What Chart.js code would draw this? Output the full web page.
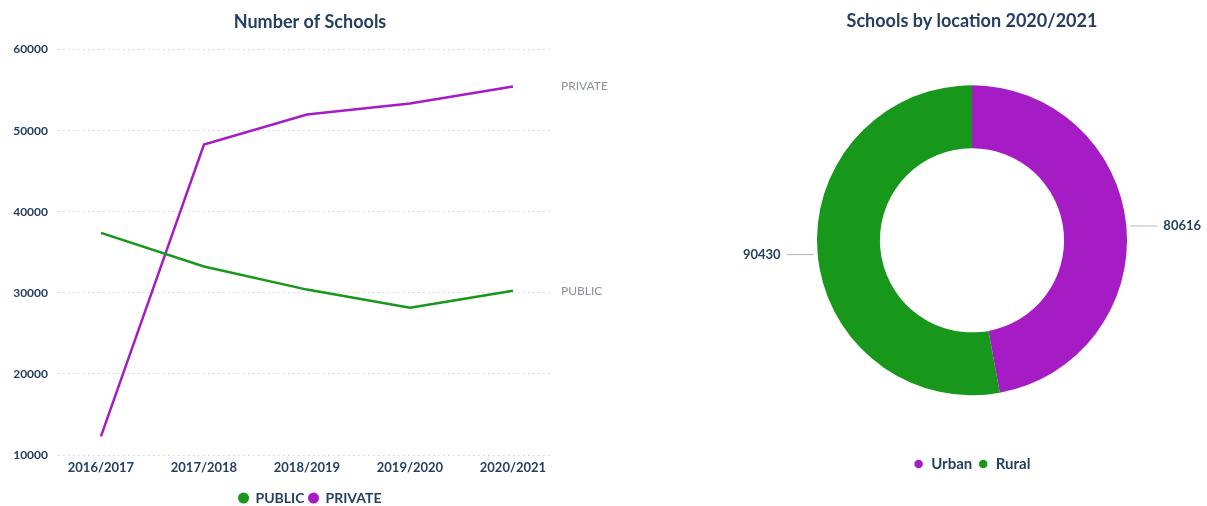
<!DOCTYPE html>
<html>
<head>
<meta charset="utf-8">
<script src="https://cdn.jsdelivr.net/npm/chart.js@4/dist/chart.umd.min.js"></script>
<style>
  html, body { margin: 0; padding: 0; background: #fff; }
  #wrap { position: relative; width: 1207px; height: 506px; overflow: hidden; }
  #lineBox { position: absolute; left: 0; top: 0; width: 620px; height: 506px; }
  #donutBox { position: absolute; left: 737px; top: 0; width: 470px; height: 506px; }
</style>
</head>
<body>
<div id="wrap">
  <div id="lineBox"><canvas id="line-chart"></canvas></div>
  <div id="donutBox"><canvas id="donut-chart"></canvas></div>
</div>
<script>
// data
const YEARS = ['2016/2017', '2017/2018', '2018/2019', '2019/2020', '2020/2021'];
const PUBLIC_SCHOOLS = [37400, 33250, 30400, 28150, 30250];
const PRIVATE_SCHOOLS = [12300, 48300, 52000, 53350, 55450];
const Y_MIN = 10000, Y_MAX = 60000, Y_STEP = 10000;

const LOCATIONS = ['Urban', 'Rural'];
const LOCATION_COUNTS = [80616, 90430];

const GREEN = '#17981b';
const PURPLE = '#a51cc4';
const NAVY = '#243f61';
const FONT = 'Lato, "Open Sans", sans-serif';

Chart.defaults.font.family = FONT;
Chart.defaults.animation = false;

// series name written after the last point of each line
const endLabels = {
  id: 'endLabels',
  afterDatasetsDraw(chart) {
    const ctx = chart.ctx;
    ctx.save();
    ctx.font = '12px ' + FONT;
    ctx.fillStyle = '#8b9099';
    ctx.textAlign = 'left';
    ctx.textBaseline = 'middle';
    chart.data.datasets.forEach((ds, i) => {
      const pts = chart.getDatasetMeta(i).data;
      const last = pts[pts.length - 1];
      ctx.fillText(ds.label, last.x + 48, last.y);
    });
    ctx.restore();
  }
};

// value labels with short leader lines next to the ring
const sliceLabels = {
  id: 'sliceLabels',
  afterDatasetsDraw(chart) {
    const ctx = chart.ctx;
    const meta = chart.getDatasetMeta(0);
    const values = chart.data.datasets[0].data;
    ctx.save();
    ctx.font = 'bold 13px ' + FONT;
    ctx.textBaseline = 'middle';
    meta.data.forEach((arc, i) => {
      const p = arc.getProps(['x', 'y', 'startAngle', 'endAngle', 'outerRadius'], true);
      const mid = (p.startAngle + p.endAngle) / 2;
      const side = Math.cos(mid) >= 0 ? 1 : -1;
      const px = p.x + Math.cos(mid) * (p.outerRadius + 4);
      const py = p.y + Math.sin(mid) * (p.outerRadius + 4);
      ctx.strokeStyle = '#a9b6c6';
      ctx.lineWidth = 1;
      ctx.beginPath();
      ctx.moveTo(px, py);
      ctx.lineTo(px + side * 27, py);
      ctx.stroke();
      ctx.fillStyle = NAVY;
      ctx.textAlign = side > 0 ? 'left' : 'right';
      ctx.fillText(String(values[i]), px + side * 33, py);
    });
    ctx.restore();
  }
};

new Chart(document.getElementById('line-chart'), {
  type: 'line',
  data: {
    datasets: [
      {
        label: 'PUBLIC',
        data: PUBLIC_SCHOOLS.map((v, i) => ({ x: i, y: v })),
        borderColor: GREEN,
        backgroundColor: GREEN,
        borderWidth: 2.5,
        pointRadius: 0,
        tension: 0
      },
      {
        label: 'PRIVATE',
        data: PRIVATE_SCHOOLS.map((v, i) => ({ x: i, y: v })),
        borderColor: PURPLE,
        backgroundColor: PURPLE,
        borderWidth: 2.5,
        pointRadius: 0,
        tension: 0
      }
    ]
  },
  options: {
    responsive: true,
    maintainAspectRatio: false,
    layout: { padding: { left: 0, right: 0, top: 0, bottom: -9 } },
    plugins: {
      title: {
        display: true,
        text: 'Number of Schools',
        color: NAVY,
        font: { size: 18, weight: 'bold' },
        padding: { top: 11, bottom: 17 }
      },
      legend: {
        position: 'bottom',
        labels: {
          usePointStyle: true,
          pointStyle: 'circle',
          boxWidth: 10,
          boxHeight: 6,
          padding: 4,
          color: NAVY,
          font: { size: 14, weight: 'bold' }
        }
      },
      tooltip: { enabled: false }
    },
    scales: {
      x: {
        type: 'linear',
        min: -0.417,
        max: 4.379,
        grid: { display: false, drawTicks: false },
        border: { display: false },
        afterFit(scale) { scale.height = 32; },
        ticks: {
          stepSize: 1,
          includeBounds: false,
          autoSkip: false,
          maxRotation: 0,
          padding: 5,
          color: NAVY,
          font: { size: 13, weight: 'bold' },
          callback: v => (Number.isInteger(v) && YEARS[v]) ? YEARS[v] : ''
        }
      },
      y: {
        min: Y_MIN,
        max: Y_MAX,
        afterFit(scale) { scale.width = 58; },
        grid: { color: '#cfcfcf', lineWidth: 1, drawTicks: false },
        border: { display: false, dash: [1.5, 3.5] },
        ticks: {
          stepSize: Y_STEP,
          padding: 10,
          color: NAVY,
          font: { size: 12, weight: 'bold' },
          callback: v => String(v)
        }
      },
      // empty right-hand axis keeps room for the end labels
      yRight: {
        position: 'right',
        grid: { display: false },
        border: { display: false },
        ticks: { display: false },
        afterFit(scale) { scale.width = 68; }
      }
    }
  },
  plugins: [endLabels]
});

new Chart(document.getElementById('donut-chart'), {
  type: 'doughnut',
  data: {
    labels: LOCATIONS,
    datasets: [{
      data: LOCATION_COUNTS,
      backgroundColor: [PURPLE, GREEN],
      borderWidth: 0,
      radius: 155,
      cutout: '59.4%'
    }]
  },
  options: {
    responsive: true,
    maintainAspectRatio: false,
    layout: { padding: { left: 0, right: 0, top: 0, bottom: 24.5 } },
    plugins: {
      title: {
        display: true,
        text: 'Schools by location 2020/2021',
        color: NAVY,
        font: { size: 18, weight: 'bold' },
        padding: { top: 10, bottom: -1.5 }
      },
      legend: {
        position: 'bottom',
        labels: {
          usePointStyle: true,
          pointStyle: 'circle',
          boxWidth: 10,
          boxHeight: 6,
          padding: 6,
          color: NAVY,
          font: { size: 15, weight: 'bold' }
        }
      },
      tooltip: { enabled: false }
    }
  },
  plugins: [sliceLabels]
});
</script>
</body>
</html>
